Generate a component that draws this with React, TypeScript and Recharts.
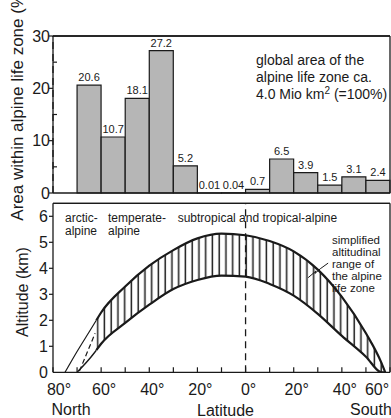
import {
  Area,
  Bar,
  BarChart,
  ComposedChart,
  LabelList,
  Line,
  ReferenceLine,
  XAxis,
  YAxis,
} from "recharts"

// top panel: share of the alpine area per 10° latitude band (north -> south)
const BINS = [
  "80-70N", "70-60N", "60-50N", "50-40N", "40-30N", "30-20N", "20-10N",
  "10-0N", "0-10S", "10-20S", "20-30S", "30-40S", "40-50S", "50-60S",
]
const AREA_SHARE = [null, 20.6, 10.7, 18.1, 27.2, 5.2, 0.01, 0.04, 0.7, 6.5, 3.9, 1.5, 3.1, 2.4]
const AREA_TICKS = [0, 5, 10, 15, 20, 25, 30]

// bottom panel: latitude (north negative) vs altitude in km
const LAT_TICKS = [-80, -70, -60, -50, -40, -30, -20, -10, 0, 10, 20, 30, 40, 50, 60]
const ALT_TICKS = [0, 1, 2, 3, 4, 5, 6]

const UPPER_ARCTIC_LAT = [-75, -70, -65, -62]
const UPPER_ARCTIC_ALT = [0, 0.8, 1.55, 2.0]
const LOWER_ARCTIC_LAT = [-70, -65, -62]
const LOWER_ARCTIC_ALT = [0, 0.5, 0.85]

const ZONE_LAT = [-62, -60, -50, -40, -30, -20, -10, 0, 10, 20, 30, 40, 50, 56.5, 58]
const ZONE_TOP = [2.0, 2.3, 3.3, 4.1, 4.7, 5.15, 5.33, 5.27, 5.05, 4.65, 3.95, 2.9, 1.5, 0.35, 0]
const ZONE_BASE = [0.85, 1.1, 1.9, 2.6, 3.2, 3.55, 3.72, 3.68, 3.4, 2.95, 2.25, 1.4, 0.6, 0, 0]

const DASH_LAT = [-69, -62.5]
const DASH_ALT = [0.05, 1.5]

const LEADER_LAT = [26, 29.3, 28.8, 31, 34.3]
const LEADER_ALT = [3.64, 3.9, 3.8, 3.98, 4.2]

const FONT = "'Liberation Sans', Arial, Helvetica, sans-serif"
const INK = "#1a1a1a"

const barRows = BINS.map((bin, i) => ({ bin, share: AREA_SHARE[i] }))
const toRows = (lat: number[], alt: number[]) => lat.map((l, i) => ({ lat: l, alt: alt[i] }))
const zoneRows = ZONE_LAT.map((lat, i) => ({ lat, range: [ZONE_BASE[i], ZONE_TOP[i]] }))

function ShareTick(props: any) {
  const { x, y, payload } = props
  const v = payload.value as number
  const major = v % 10 === 0
  return (
    <g>
      <line x1={major ? x - 4 : x} x2={major ? x : x + 4} y1={y} y2={y} stroke={INK} strokeWidth={1.2} />
      {major && (
        <text x={x - 3} y={y} textAnchor="end" dominantBaseline="central" fontSize={16} fontFamily={FONT} fill={INK}>
          {v}
        </text>
      )}
    </g>
  )
}

function AltTick(props: any) {
  const { x, y, payload } = props
  const v = payload.value as number
  return (
    <g>
      {v > 0 && <line x1={x - 4} x2={x} y1={y} y2={y} stroke={INK} strokeWidth={1.2} />}
      <text x={x - 5} y={y} textAnchor="end" dominantBaseline="central" fontSize={16} fontFamily={FONT} fill={INK}>
        {v}
      </text>
    </g>
  )
}

function LatTick(props: any) {
  const { x, y, payload } = props
  const v = payload.value as number
  const dx = v === -80 ? 6 : v === 60 ? -13 : 3
  return (
    <g>
      <line x1={x} x2={x} y1={y} y2={y - 5} stroke={INK} strokeWidth={1.2} />
      {v % 20 === 0 && (
        <text x={x + dx} y={y + 22.5} textAnchor="middle" fontSize={16} fontFamily={FONT} fill={INK}>
          {`${Math.abs(v)}°`}
        </text>
      )}
    </g>
  )
}

const frameLine = { stroke: INK, strokeWidth: 1.3 }

export default function App() {
  return (
    <div style={{ position: "absolute", left: 0, top: 0, width: 391, height: 418, overflow: "hidden", background: "#fff" }}>
      <div style={{ position: "absolute", left: 0, top: 0 }}>
        <BarChart
          width={391}
          height={200}
          data={barRows}
          margin={{ top: 35, right: 1, bottom: 6, left: 0 }}
          barCategoryGap={0}
          barGap={0}
        >
          <XAxis xAxisId="cat" dataKey="bin" height={1} tick={false} tickLine={false} axisLine={frameLine} />
          <XAxis xAxisId="lat" type="number" domain={[-80, 60]} allowDataOverflow hide />
          <XAxis
            xAxisId="frame"
            orientation="top"
            type="number"
            domain={[-80, 60]}
            allowDataOverflow
            height={1}
            tick={false}
            tickLine={false}
            axisLine={frameLine}
          />
          <YAxis
            domain={[0, 30]}
            ticks={AREA_TICKS}
            interval={0}
            width={53}
            tickSize={0}
            tickMargin={0}
            tickLine={false}
            axisLine={frameLine}
            tick={(p: any) => <ShareTick {...p} />}
          />
          <YAxis
            yAxisId="r"
            orientation="right"
            mirror
            domain={[0, 30]}
            ticks={AREA_TICKS}
            interval={0}
            tick={false}
            tickSize={4}
            tickLine={{ stroke: INK, strokeWidth: 1.2 }}
            axisLine={frameLine}
          />
          <Bar xAxisId="cat" dataKey="share" fill="#b6b6b6" stroke={INK} strokeWidth={1.2} isAnimationActive={false}>
            <LabelList
              dataKey="share"
              position="top"
              offset={4}
              formatter={(v: any) => (v == null ? "" : String(v))}
              fontSize={11}
              fontFamily={FONT}
              fill={INK}
            />
          </Bar>
          <ReferenceLine xAxisId="lat" y={30} stroke={INK} strokeWidth={1.3} />
          <ReferenceLine xAxisId="lat" x={0} stroke={INK} strokeWidth={1.3} strokeDasharray="7 5" />
        </BarChart>
      </div>

      <div style={{ position: "absolute", left: 0, top: 200 }}>
        <ComposedChart width={391} height={218} margin={{ top: 2.3, right: 1, bottom: 44.7, left: 0 }}>
          <defs>
            <pattern id="hatch" patternUnits="userSpaceOnUse" width={6.75} height={8}>
              <line x1={3.2} x2={3.2} y1={0} y2={8} stroke={INK} strokeWidth={1.5} />
            </pattern>
          </defs>
          <XAxis
            dataKey="lat"
            type="number"
            domain={[-80, 60]}
            ticks={LAT_TICKS}
            interval={0}
            allowDataOverflow
            height={1}
            tickSize={0}
            tickMargin={0}
            tickLine={false}
            axisLine={frameLine}
            tick={(p: any) => <LatTick {...p} />}
          />
          <XAxis
            xAxisId="frame"
            orientation="top"
            type="number"
            domain={[-80, 60]}
            allowDataOverflow
            height={1}
            tick={false}
            tickLine={false}
            axisLine={frameLine}
          />
          <YAxis
            domain={[0, 6.5]}
            ticks={ALT_TICKS}
            interval={0}
            allowDataOverflow
            width={53}
            tickSize={0}
            tickMargin={0}
            tickLine={false}
            axisLine={frameLine}
            tick={(p: any) => <AltTick {...p} />}
          />
          <YAxis
            yAxisId="r"
            orientation="right"
            mirror
            domain={[0, 6.5]}
            ticks={ALT_TICKS.slice(1)}
            interval={0}
            allowDataOverflow
            tick={false}
            tickSize={4}
            tickLine={{ stroke: INK, strokeWidth: 1.2 }}
            axisLine={frameLine}
          />
          <Area
            data={zoneRows}
            dataKey="range"
            type="monotone"
            stroke={INK}
            strokeWidth={2.2}
            fill="url(#hatch)"
            fillOpacity={1}
            isAnimationActive={false}
          />
          <Line data={toRows(UPPER_ARCTIC_LAT, UPPER_ARCTIC_ALT)} dataKey="alt" type="monotone" stroke={INK} strokeWidth={1.2} dot={false} isAnimationActive={false} />
          <Line data={toRows(LOWER_ARCTIC_LAT, LOWER_ARCTIC_ALT)} dataKey="alt" type="monotone" stroke={INK} strokeWidth={1.4} dot={false} isAnimationActive={false} />
          <Line data={toRows(DASH_LAT, DASH_ALT)} dataKey="alt" type="linear" stroke={INK} strokeWidth={1.2} strokeDasharray="5 3" dot={false} isAnimationActive={false} />
          <Line data={toRows(LEADER_LAT, LEADER_ALT)} dataKey="alt" type="linear" stroke={INK} strokeWidth={1} dot={false} isAnimationActive={false} />
          <ReferenceLine y={6.5} stroke={INK} strokeWidth={1.3} />
          <ReferenceLine x={0} stroke={INK} strokeWidth={1.3} strokeDasharray="7 5" />
        </ComposedChart>
      </div>

      <svg width={391} height={418} style={{ position: "absolute", left: 0, top: 0, pointerEvents: "none" }} fontFamily={FONT} fill={INK}>
        <text transform="translate(17,104) rotate(-90)" textAnchor="middle" dominantBaseline="central" fontSize={17}>
          Area within alpine life zone (%)
        </text>
        <text transform="translate(22.5,292) rotate(-90)" textAnchor="middle" dominantBaseline="central" fontSize={16}>
          Altitude (km)
        </text>

        <g fontSize={14}>
          <text x={256} y={65}>global area of the</text>
          <text x={256} y={81.7}>alpine life zone ca.</text>
          <text x={256} y={98.5}>
            4.0 Mio km<tspan fontSize={10} dy={-5}>2</tspan>
            <tspan dy={5}> (=100%)</tspan>
          </text>
        </g>

        <g fontSize={12}>
          <text x={65} y={221.7}>arctic-</text>
          <text x={65} y={235}>alpine</text>
          <text x={108} y={221.7}>temperate-</text>
          <text x={108} y={235}>alpine</text>
          <text x={177.7} y={221.7}>subtropical and tropical-alpine</text>
        </g>
        <g fontSize={11.5}>
          <text x={332} y={244}>simplified</text>
          <text x={332} y={256}>altitudinal</text>
          <text x={332} y={268}>range of</text>
          <text x={332} y={280}>the alpine</text>
          <text x={332} y={292}>life zone</text>
        </g>

        <g fontSize={16}>
          <text x={71} y={415} textAnchor="middle">North</text>
          <text x={225.5} y={416} textAnchor="middle">Latitude</text>
          <text x={350} y={415}>South</text>
        </g>
      </svg>
    </div>
  )
}
